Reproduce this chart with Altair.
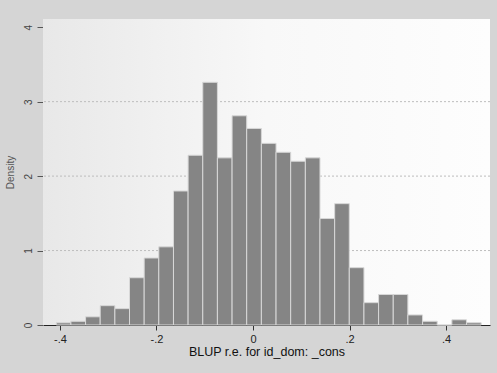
import altair as alt
import pandas as pd

# Histogram bin edges (30 edges -> 29 bins) and densities
bin_edges = [-0.4075, -0.3772, -0.3468, -0.3165, -0.2861, -0.2558, -0.2254, -0.1951,
             -0.1647, -0.1344, -0.1040, -0.0737, -0.0433, -0.0130, 0.0174, 0.0478,
             0.0781, 0.1085, 0.1388, 0.1692, 0.1995, 0.2299, 0.2602, 0.2906,
             0.3209, 0.3513, 0.3816, 0.4120, 0.4423, 0.4727]
density = [0.03, 0.05, 0.11, 0.26, 0.22, 0.635, 0.90, 1.05, 1.80, 2.28,
           3.26, 2.245, 2.81, 2.64, 2.44, 2.32, 2.20, 2.245, 1.43, 1.63,
           0.77, 0.30, 0.41, 0.41, 0.135, 0.05, 0.0, 0.07, 0.03]
x_ticks = [-0.4, -0.2, 0.0, 0.2, 0.4]
y_ticks = [0, 1, 2, 3, 4]
grid_vals = [1, 2, 3]

bars = pd.DataFrame({
    "lo": bin_edges[:-1],
    "hi": bin_edges[1:],
    "density": density,
})
grid = pd.DataFrame({"g": grid_vals})
panel = pd.DataFrame({"p": [0]})

FONT = "Liberation Sans"
xscale = alt.Scale(domain=[-0.435, 0.491], nice=False, zero=False)
yscale = alt.Scale(domain=[0, 4.11], nice=False)

y_axis = alt.Axis(values=y_ticks, title="Density", format="d", grid=False,
                  labelAngle=270, labelAlign="center", labelBaseline="bottom",
                  labelFontSize=10, labelColor="#444444", labelFont=FONT,
                  domainColor="#8a8a8a", tickColor="#555555", tickSize=6,
                  labelPadding=4, titleFont=FONT, titleFontSize=10,
                  titleFontWeight="normal", titleColor="#555555",
                  titlePadding=8)

panel_layer = alt.Chart(panel).mark_rect(
    color=alt.LinearGradient(
        gradient="linear", x1=0, x2=1, y1=0, y2=0,
        stops=[alt.GradientStop(color="#e8e8e8", offset=0),
               alt.GradientStop(color="#f8f8f8", offset=0.5),
               alt.GradientStop(color="#fdfdfd", offset=1)])
).encode(x=alt.value(0), x2=alt.value(447), y=alt.value(0), y2=alt.value(306))

grid_layer = alt.Chart(grid).mark_rule(color="#bdbdbd", strokeWidth=1, strokeDash=[2, 2]).encode(
    y=alt.Y("g:Q", scale=yscale, axis=y_axis, title="Density"),
)

bar_layer = alt.Chart(bars).mark_rect(fill="#858585", stroke="#d8d8d8", strokeWidth=1).encode(
    x=alt.X("lo:Q", scale=xscale,
            axis=alt.Axis(values=x_ticks, title="BLUP r.e. for id_dom: _cons",
                          labelExpr="datum.value == 0 ? '0' : replace(replace(format(datum.value, '.1f'), '0.', '.'), '\u2212', '-')",
                          grid=False, domainColor="#222222", domainWidth=1.2,
                          tickColor="#333333", tickSize=5, labelFontSize=11,
                          labelColor="#222222", labelPadding=3, labelFont=FONT,
                          titleFont=FONT, titleFontSize=12.5, titleFontWeight="normal",
                          titleColor="#111111", titlePadding=1)),
    x2="hi:Q",
    y=alt.Y("density:Q", scale=yscale, axis=y_axis, title="Density"),
    y2=alt.datum(0),
)

chart = alt.layer(panel_layer, grid_layer, bar_layer).properties(
    width=447,
    height=306,
    background="#d5d5d5",
    padding={"left": 43, "top": 19, "right": 7, "bottom": 48},
    autosize=alt.AutoSizeParams(type="none"),
).configure_view(fill="#f6f6f6", stroke=None)

chart.save("out.html", embed_options={"renderer": "svg", "actions": False})
